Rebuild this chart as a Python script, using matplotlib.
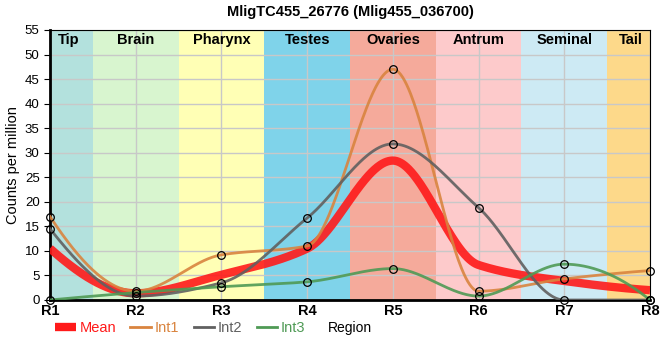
import numpy as np
import matplotlib.pyplot as plt
from matplotlib.lines import Line2D

plt.rcParams['font.family'] = ['Liberation Sans', 'DejaVu Sans']

regions = ['R1', 'R2', 'R3', 'R4', 'R5', 'R6', 'R7', 'R8']
int1 = [17.0, 1.8, 9.2, 11.0, 47.0, 1.8, 4.3, 6.0]
int2 = [14.5, 0.8, 3.5, 16.7, 31.8, 18.8, 0.0, 0.0]
int3 = [0.0, 1.5, 2.7, 3.7, 6.4, 0.8, 7.3, 0.0]
mean = list(np.mean([int1, int2, int3], axis=0))

bands = ['Tip', 'Brain', 'Pharynx', 'Testes', 'Ovaries', 'Antrum', 'Seminal', 'Tail']
band_colors = ['#b3e1dd', '#d8f5cf', '#ffffb5', '#7fd3ea', '#f5aa9b', '#fdcacb', '#cdeaf4', '#fdd98a']


def pchip(x, y, xs):
    # monotone cubic (Fritsch-Carlson)
    x = np.asarray(x, float)
    y = np.asarray(y, float)
    h = np.diff(x)
    d = np.diff(y) / h
    m = np.zeros_like(y)
    for i in range(1, len(y) - 1):
        if d[i - 1] * d[i] > 0:
            w1 = 2 * h[i] + h[i - 1]
            w2 = h[i] + 2 * h[i - 1]
            m[i] = (w1 + w2) / (w1 / d[i - 1] + w2 / d[i])
    m[0] = ((2 * h[0] + h[1]) * d[0] - h[0] * d[1]) / (h[0] + h[1])
    if np.sign(m[0]) != np.sign(d[0]):
        m[0] = 0
    m[-1] = ((2 * h[-1] + h[-2]) * d[-1] - h[-1] * d[-2]) / (h[-1] + h[-2])
    if np.sign(m[-1]) != np.sign(d[-1]):
        m[-1] = 0
    idx = np.clip(np.searchsorted(x, xs) - 1, 0, len(x) - 2)
    t = (xs - x[idx]) / h[idx]
    h00 = 2 * t**3 - 3 * t**2 + 1
    h10 = t**3 - 2 * t**2 + t
    h01 = -2 * t**3 + 3 * t**2
    h11 = t**3 - t**2
    return h00 * y[idx] + h10 * h[idx] * m[idx] + h01 * y[idx + 1] + h11 * h[idx] * m[idx + 1]


x = np.arange(len(regions))
xs = np.linspace(0, len(regions) - 1, 600)

fig = plt.figure(figsize=(6.6, 3.6), dpi=100)
ax = fig.add_axes([50 / 660, 60 / 360, 600 / 660, 270 / 360])

for i, (name, c) in enumerate(zip(bands, band_colors)):
    ax.axvspan(i - 0.5, i + 0.5, color=c, zorder=0, lw=0)
    ax.text(max(i, 0.22) if i < 7 else min(i, 6.78), 52.9, name, ha='center', va='center',
            fontsize=10.5, fontweight='bold', zorder=5)

ax.grid(color='#c8c8c8', lw=1, zorder=1)
ax.set_axisbelow(True)

ax.plot(xs, pchip(x, mean, xs), color='#ff1a1a', lw=6, alpha=0.9, zorder=3, solid_capstyle='butt')
ax.plot(xs, pchip(x, int1, xs), color='#d9843f', lw=2, alpha=0.9, zorder=4)
ax.plot(xs, pchip(x, int2, xs), color='#606060', lw=2, alpha=0.9, zorder=4)
ax.plot(xs, pchip(x, int3, xs), color='#4f9a55', lw=2, alpha=0.9, zorder=4)
for s in (int1, int2, int3):
    ax.plot(x, s, 'o', ms=5.5, mfc='none', mec='black', mew=0.9, zorder=6, clip_on=False)

ax.set_xlim(0, 7)
ax.set_ylim(0, 55)
ax.set_yticks(range(0, 56, 5))
ax.set_xticks(x)
ax.set_xticklabels(regions, fontweight='bold', fontsize=10.5)
ax.tick_params(axis='y', labelsize=9.5, length=4)
ax.tick_params(axis='x', length=0, pad=3)
ax.spines['left'].set_linewidth(2)
ax.spines['bottom'].set_linewidth(2)
ax.set_ylabel('Counts per million', fontsize=10.5)
ax.yaxis.set_label_coords(-0.05, 0.5)
ax.set_title('MligTC455_26776 (Mlig455_036700)', fontweight='bold', fontsize=10.5, pad=10)

handles = [Line2D([], [], color='#ff1a1a', lw=6, solid_capstyle='butt'),
           Line2D([], [], color='#d9843f', lw=2),
           Line2D([], [], color='#606060', lw=2),
           Line2D([], [], color='#4f9a55', lw=2)]
leg = fig.legend(handles, ['Mean', 'Int1', 'Int2', 'Int3'], loc='center left',
                 bbox_to_anchor=(45 / 660, 1 - 328 / 360), ncol=4, frameon=False,
                 fontsize=10.5, handlelength=1.4, handletextpad=0.25, columnspacing=1.0,
                 borderpad=0.2)
for t, c in zip(leg.get_texts(), ['#ff1a1a', '#d9843f', '#606060', '#4f9a55']):
    t.set_color(c)
fig.text(350 / 660, 1 - 328 / 360, 'Region', ha='center', va='center', fontsize=10)

fig.savefig('out.png', dpi=100)
